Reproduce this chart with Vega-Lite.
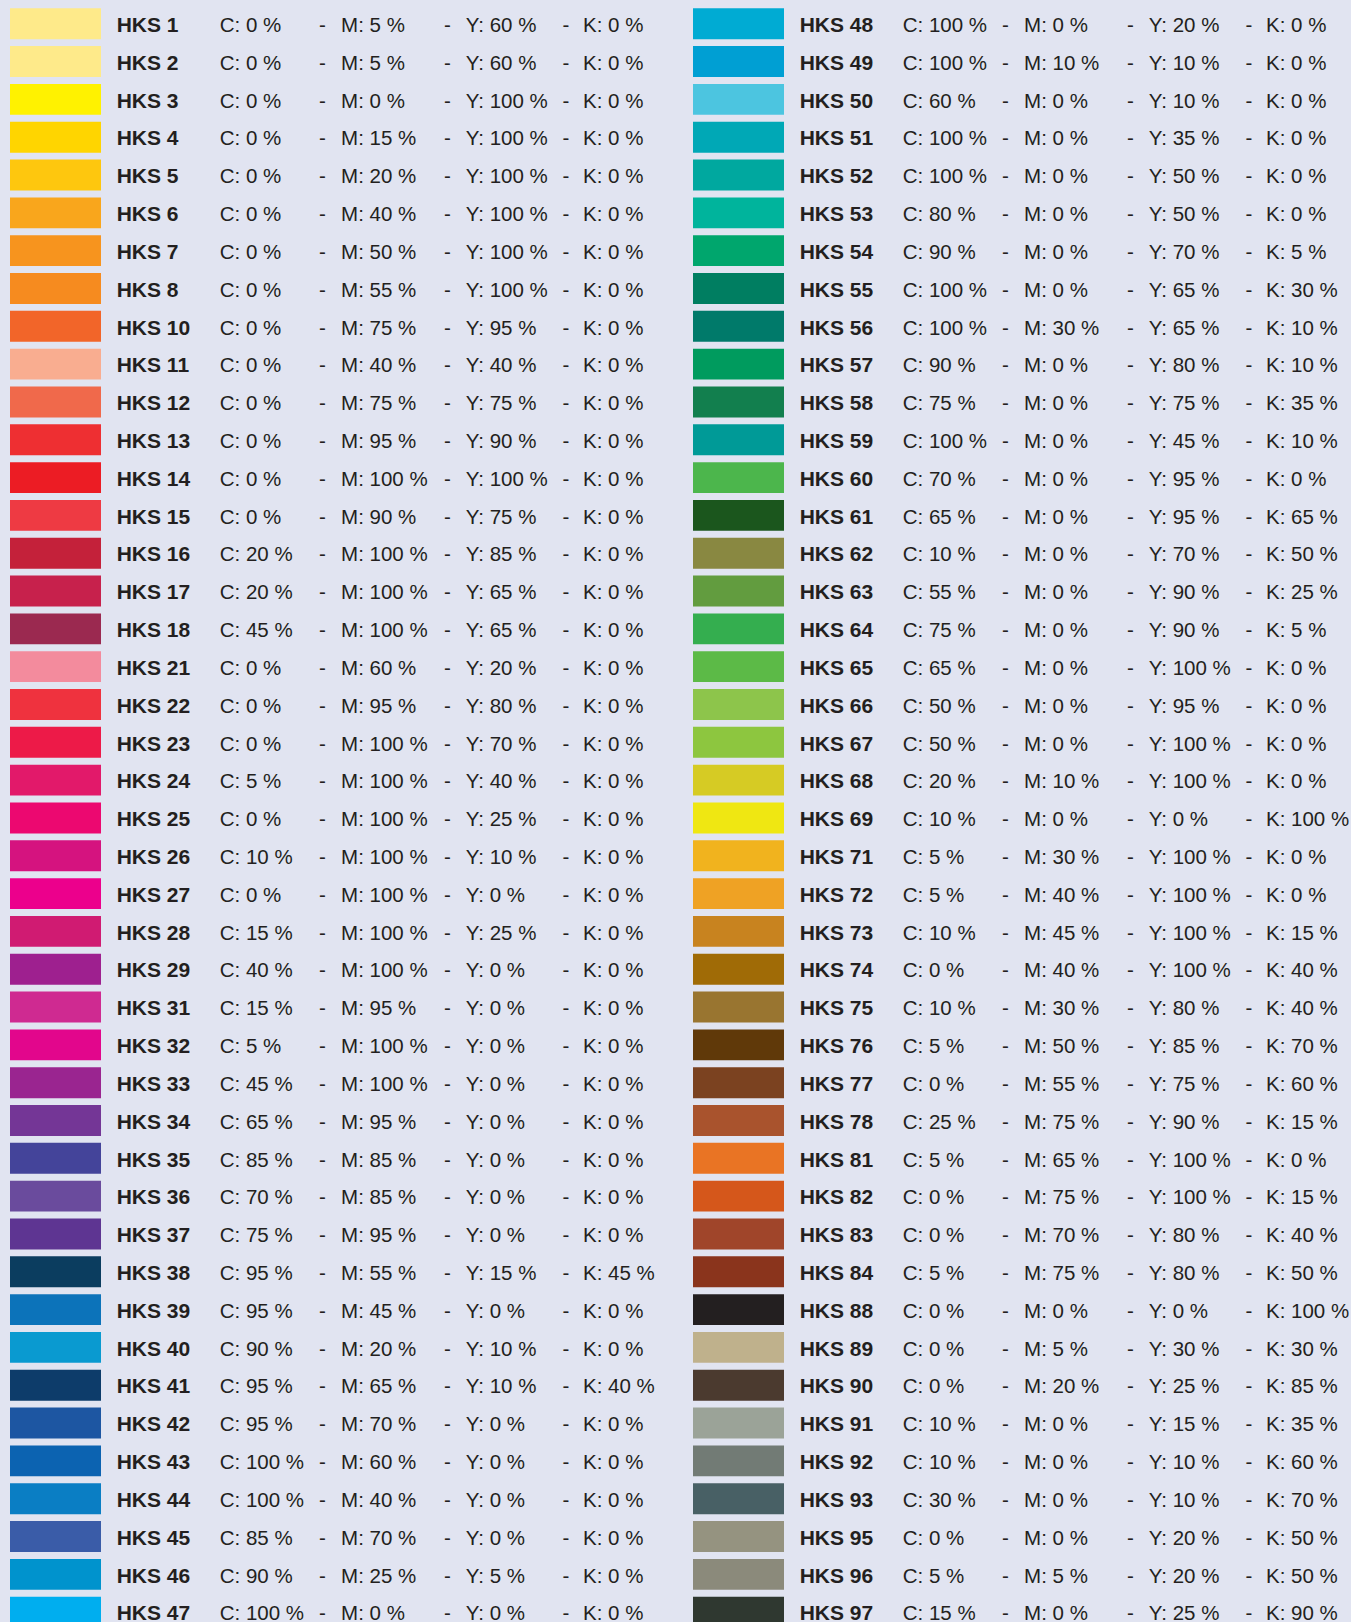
{
  "$schema": "https://vega.github.io/schema/vega-lite/v6.json",
  "width": 1351,
  "height": 1622,
  "autosize": {"type": "none"},
  "padding": 0,
  "background": "#e1e4f1",
  "config": {"view": {"stroke": null}},
  "data": {"values": [
    {"col":0,"row":0,"name":"HKS 1","c":"C: 0 %","m":"M: 5 %","y":"Y: 60 %","k":"K: 0 %","rgb":"#feea8a"},
    {"col":0,"row":1,"name":"HKS 2","c":"C: 0 %","m":"M: 5 %","y":"Y: 60 %","k":"K: 0 %","rgb":"#feea8a"},
    {"col":0,"row":2,"name":"HKS 3","c":"C: 0 %","m":"M: 0 %","y":"Y: 100 %","k":"K: 0 %","rgb":"#fff200"},
    {"col":0,"row":3,"name":"HKS 4","c":"C: 0 %","m":"M: 15 %","y":"Y: 100 %","k":"K: 0 %","rgb":"#ffd500"},
    {"col":0,"row":4,"name":"HKS 5","c":"C: 0 %","m":"M: 20 %","y":"Y: 100 %","k":"K: 0 %","rgb":"#fec70e"},
    {"col":0,"row":5,"name":"HKS 6","c":"C: 0 %","m":"M: 40 %","y":"Y: 100 %","k":"K: 0 %","rgb":"#f9a61c"},
    {"col":0,"row":6,"name":"HKS 7","c":"C: 0 %","m":"M: 50 %","y":"Y: 100 %","k":"K: 0 %","rgb":"#f7941e"},
    {"col":0,"row":7,"name":"HKS 8","c":"C: 0 %","m":"M: 55 %","y":"Y: 100 %","k":"K: 0 %","rgb":"#f68b1f"},
    {"col":0,"row":8,"name":"HKS 10","c":"C: 0 %","m":"M: 75 %","y":"Y: 95 %","k":"K: 0 %","rgb":"#f26529"},
    {"col":0,"row":9,"name":"HKS 11","c":"C: 0 %","m":"M: 40 %","y":"Y: 40 %","k":"K: 0 %","rgb":"#f9ad90"},
    {"col":0,"row":10,"name":"HKS 12","c":"C: 0 %","m":"M: 75 %","y":"Y: 75 %","k":"K: 0 %","rgb":"#f0694b"},
    {"col":0,"row":11,"name":"HKS 13","c":"C: 0 %","m":"M: 95 %","y":"Y: 90 %","k":"K: 0 %","rgb":"#ee2f32"},
    {"col":0,"row":12,"name":"HKS 14","c":"C: 0 %","m":"M: 100 %","y":"Y: 100 %","k":"K: 0 %","rgb":"#ec1c24"},
    {"col":0,"row":13,"name":"HKS 15","c":"C: 0 %","m":"M: 90 %","y":"Y: 75 %","k":"K: 0 %","rgb":"#ee3a43"},
    {"col":0,"row":14,"name":"HKS 16","c":"C: 20 %","m":"M: 100 %","y":"Y: 85 %","k":"K: 0 %","rgb":"#c4213a"},
    {"col":0,"row":15,"name":"HKS 17","c":"C: 20 %","m":"M: 100 %","y":"Y: 65 %","k":"K: 0 %","rgb":"#c7214c"},
    {"col":0,"row":16,"name":"HKS 18","c":"C: 45 %","m":"M: 100 %","y":"Y: 65 %","k":"K: 0 %","rgb":"#9b2950"},
    {"col":0,"row":17,"name":"HKS 21","c":"C: 0 %","m":"M: 60 %","y":"Y: 20 %","k":"K: 0 %","rgb":"#f38b9d"},
    {"col":0,"row":18,"name":"HKS 22","c":"C: 0 %","m":"M: 95 %","y":"Y: 80 %","k":"K: 0 %","rgb":"#ef323e"},
    {"col":0,"row":19,"name":"HKS 23","c":"C: 0 %","m":"M: 100 %","y":"Y: 70 %","k":"K: 0 %","rgb":"#ed1a48"},
    {"col":0,"row":20,"name":"HKS 24","c":"C: 5 %","m":"M: 100 %","y":"Y: 40 %","k":"K: 0 %","rgb":"#e2196a"},
    {"col":0,"row":21,"name":"HKS 25","c":"C: 0 %","m":"M: 100 %","y":"Y: 25 %","k":"K: 0 %","rgb":"#ec0870"},
    {"col":0,"row":22,"name":"HKS 26","c":"C: 10 %","m":"M: 100 %","y":"Y: 10 %","k":"K: 0 %","rgb":"#d5137f"},
    {"col":0,"row":23,"name":"HKS 27","c":"C: 0 %","m":"M: 100 %","y":"Y: 0 %","k":"K: 0 %","rgb":"#ec008c"},
    {"col":0,"row":24,"name":"HKS 28","c":"C: 15 %","m":"M: 100 %","y":"Y: 25 %","k":"K: 0 %","rgb":"#d01b72"},
    {"col":0,"row":25,"name":"HKS 29","c":"C: 40 %","m":"M: 100 %","y":"Y: 0 %","k":"K: 0 %","rgb":"#9e208f"},
    {"col":0,"row":26,"name":"HKS 31","c":"C: 15 %","m":"M: 95 %","y":"Y: 0 %","k":"K: 0 %","rgb":"#cf2a91"},
    {"col":0,"row":27,"name":"HKS 32","c":"C: 5 %","m":"M: 100 %","y":"Y: 0 %","k":"K: 0 %","rgb":"#e2068c"},
    {"col":0,"row":28,"name":"HKS 33","c":"C: 45 %","m":"M: 100 %","y":"Y: 0 %","k":"K: 0 %","rgb":"#9a2590"},
    {"col":0,"row":29,"name":"HKS 34","c":"C: 65 %","m":"M: 95 %","y":"Y: 0 %","k":"K: 0 %","rgb":"#743696"},
    {"col":0,"row":30,"name":"HKS 35","c":"C: 85 %","m":"M: 85 %","y":"Y: 0 %","k":"K: 0 %","rgb":"#44449a"},
    {"col":0,"row":31,"name":"HKS 36","c":"C: 70 %","m":"M: 85 %","y":"Y: 0 %","k":"K: 0 %","rgb":"#6a4b9d"},
    {"col":0,"row":32,"name":"HKS 37","c":"C: 75 %","m":"M: 95 %","y":"Y: 0 %","k":"K: 0 %","rgb":"#5e3592"},
    {"col":0,"row":33,"name":"HKS 38","c":"C: 95 %","m":"M: 55 %","y":"Y: 15 %","k":"K: 45 %","rgb":"#0b3d5f"},
    {"col":0,"row":34,"name":"HKS 39","c":"C: 95 %","m":"M: 45 %","y":"Y: 0 %","k":"K: 0 %","rgb":"#0c73ba"},
    {"col":0,"row":35,"name":"HKS 40","c":"C: 90 %","m":"M: 20 %","y":"Y: 10 %","k":"K: 0 %","rgb":"#0a9ad0"},
    {"col":0,"row":36,"name":"HKS 41","c":"C: 95 %","m":"M: 65 %","y":"Y: 10 %","k":"K: 40 %","rgb":"#0d3c6a"},
    {"col":0,"row":37,"name":"HKS 42","c":"C: 95 %","m":"M: 70 %","y":"Y: 0 %","k":"K: 0 %","rgb":"#1d56a2"},
    {"col":0,"row":38,"name":"HKS 43","c":"C: 100 %","m":"M: 60 %","y":"Y: 0 %","k":"K: 0 %","rgb":"#0c63b1"},
    {"col":0,"row":39,"name":"HKS 44","c":"C: 100 %","m":"M: 40 %","y":"Y: 0 %","k":"K: 0 %","rgb":"#0a7ec4"},
    {"col":0,"row":40,"name":"HKS 45","c":"C: 85 %","m":"M: 70 %","y":"Y: 0 %","k":"K: 0 %","rgb":"#3a5ca8"},
    {"col":0,"row":41,"name":"HKS 46","c":"C: 90 %","m":"M: 25 %","y":"Y: 5 %","k":"K: 0 %","rgb":"#0093cd"},
    {"col":0,"row":42,"name":"HKS 47","c":"C: 100 %","m":"M: 0 %","y":"Y: 0 %","k":"K: 0 %","rgb":"#00aeef"},
    {"col":1,"row":0,"name":"HKS 48","c":"C: 100 %","m":"M: 0 %","y":"Y: 20 %","k":"K: 0 %","rgb":"#00abd3"},
    {"col":1,"row":1,"name":"HKS 49","c":"C: 100 %","m":"M: 10 %","y":"Y: 10 %","k":"K: 0 %","rgb":"#009fd3"},
    {"col":1,"row":2,"name":"HKS 50","c":"C: 60 %","m":"M: 0 %","y":"Y: 10 %","k":"K: 0 %","rgb":"#4cc5e0"},
    {"col":1,"row":3,"name":"HKS 51","c":"C: 100 %","m":"M: 0 %","y":"Y: 35 %","k":"K: 0 %","rgb":"#00a8b6"},
    {"col":1,"row":4,"name":"HKS 52","c":"C: 100 %","m":"M: 0 %","y":"Y: 50 %","k":"K: 0 %","rgb":"#00a89f"},
    {"col":1,"row":5,"name":"HKS 53","c":"C: 80 %","m":"M: 0 %","y":"Y: 50 %","k":"K: 0 %","rgb":"#00b49c"},
    {"col":1,"row":6,"name":"HKS 54","c":"C: 90 %","m":"M: 0 %","y":"Y: 70 %","k":"K: 5 %","rgb":"#00a66d"},
    {"col":1,"row":7,"name":"HKS 55","c":"C: 100 %","m":"M: 0 %","y":"Y: 65 %","k":"K: 30 %","rgb":"#007e61"},
    {"col":1,"row":8,"name":"HKS 56","c":"C: 100 %","m":"M: 30 %","y":"Y: 65 %","k":"K: 10 %","rgb":"#007a6a"},
    {"col":1,"row":9,"name":"HKS 57","c":"C: 90 %","m":"M: 0 %","y":"Y: 80 %","k":"K: 10 %","rgb":"#009b5e"},
    {"col":1,"row":10,"name":"HKS 58","c":"C: 75 %","m":"M: 0 %","y":"Y: 75 %","k":"K: 35 %","rgb":"#127f4e"},
    {"col":1,"row":11,"name":"HKS 59","c":"C: 100 %","m":"M: 0 %","y":"Y: 45 %","k":"K: 10 %","rgb":"#009a97"},
    {"col":1,"row":12,"name":"HKS 60","c":"C: 70 %","m":"M: 0 %","y":"Y: 95 %","k":"K: 0 %","rgb":"#4cb64c"},
    {"col":1,"row":13,"name":"HKS 61","c":"C: 65 %","m":"M: 0 %","y":"Y: 95 %","k":"K: 65 %","rgb":"#1b561d"},
    {"col":1,"row":14,"name":"HKS 62","c":"C: 10 %","m":"M: 0 %","y":"Y: 70 %","k":"K: 50 %","rgb":"#898841"},
    {"col":1,"row":15,"name":"HKS 63","c":"C: 55 %","m":"M: 0 %","y":"Y: 90 %","k":"K: 25 %","rgb":"#629c3f"},
    {"col":1,"row":16,"name":"HKS 64","c":"C: 75 %","m":"M: 0 %","y":"Y: 90 %","k":"K: 5 %","rgb":"#34ae4f"},
    {"col":1,"row":17,"name":"HKS 65","c":"C: 65 %","m":"M: 0 %","y":"Y: 100 %","k":"K: 0 %","rgb":"#5cba47"},
    {"col":1,"row":18,"name":"HKS 66","c":"C: 50 %","m":"M: 0 %","y":"Y: 95 %","k":"K: 0 %","rgb":"#8dc54b"},
    {"col":1,"row":19,"name":"HKS 67","c":"C: 50 %","m":"M: 0 %","y":"Y: 100 %","k":"K: 0 %","rgb":"#8dc63f"},
    {"col":1,"row":20,"name":"HKS 68","c":"C: 20 %","m":"M: 10 %","y":"Y: 100 %","k":"K: 0 %","rgb":"#d6cb24"},
    {"col":1,"row":21,"name":"HKS 69","c":"C: 10 %","m":"M: 0 %","y":"Y: 0 %","k":"K: 100 %","rgb":"#efe712"},
    {"col":1,"row":22,"name":"HKS 71","c":"C: 5 %","m":"M: 30 %","y":"Y: 100 %","k":"K: 0 %","rgb":"#f1b31e"},
    {"col":1,"row":23,"name":"HKS 72","c":"C: 5 %","m":"M: 40 %","y":"Y: 100 %","k":"K: 0 %","rgb":"#efa224"},
    {"col":1,"row":24,"name":"HKS 73","c":"C: 10 %","m":"M: 45 %","y":"Y: 100 %","k":"K: 15 %","rgb":"#c8831f"},
    {"col":1,"row":25,"name":"HKS 74","c":"C: 0 %","m":"M: 40 %","y":"Y: 100 %","k":"K: 40 %","rgb":"#a06b06"},
    {"col":1,"row":26,"name":"HKS 75","c":"C: 10 %","m":"M: 30 %","y":"Y: 80 %","k":"K: 40 %","rgb":"#997530"},
    {"col":1,"row":27,"name":"HKS 76","c":"C: 5 %","m":"M: 50 %","y":"Y: 85 %","k":"K: 70 %","rgb":"#603909"},
    {"col":1,"row":28,"name":"HKS 77","c":"C: 0 %","m":"M: 55 %","y":"Y: 75 %","k":"K: 60 %","rgb":"#7b4220"},
    {"col":1,"row":29,"name":"HKS 78","c":"C: 25 %","m":"M: 75 %","y":"Y: 90 %","k":"K: 15 %","rgb":"#a9532d"},
    {"col":1,"row":30,"name":"HKS 81","c":"C: 5 %","m":"M: 65 %","y":"Y: 100 %","k":"K: 0 %","rgb":"#e97424"},
    {"col":1,"row":31,"name":"HKS 82","c":"C: 0 %","m":"M: 75 %","y":"Y: 100 %","k":"K: 15 %","rgb":"#d5571b"},
    {"col":1,"row":32,"name":"HKS 83","c":"C: 0 %","m":"M: 70 %","y":"Y: 80 %","k":"K: 40 %","rgb":"#a0452a"},
    {"col":1,"row":33,"name":"HKS 84","c":"C: 5 %","m":"M: 75 %","y":"Y: 80 %","k":"K: 50 %","rgb":"#8a341c"},
    {"col":1,"row":34,"name":"HKS 88","c":"C: 0 %","m":"M: 0 %","y":"Y: 0 %","k":"K: 100 %","rgb":"#231f20"},
    {"col":1,"row":35,"name":"HKS 89","c":"C: 0 %","m":"M: 5 %","y":"Y: 30 %","k":"K: 30 %","rgb":"#bfb18c"},
    {"col":1,"row":36,"name":"HKS 90","c":"C: 0 %","m":"M: 20 %","y":"Y: 25 %","k":"K: 85 %","rgb":"#4b3a2f"},
    {"col":1,"row":37,"name":"HKS 91","c":"C: 10 %","m":"M: 0 %","y":"Y: 15 %","k":"K: 35 %","rgb":"#9ba398"},
    {"col":1,"row":38,"name":"HKS 92","c":"C: 10 %","m":"M: 0 %","y":"Y: 10 %","k":"K: 60 %","rgb":"#727b75"},
    {"col":1,"row":39,"name":"HKS 93","c":"C: 30 %","m":"M: 0 %","y":"Y: 10 %","k":"K: 70 %","rgb":"#486065"},
    {"col":1,"row":40,"name":"HKS 95","c":"C: 0 %","m":"M: 0 %","y":"Y: 20 %","k":"K: 50 %","rgb":"#959380"},
    {"col":1,"row":41,"name":"HKS 96","c":"C: 5 %","m":"M: 5 %","y":"Y: 20 %","k":"K: 50 %","rgb":"#8b8a7b"},
    {"col":1,"row":42,"name":"HKS 97","c":"C: 15 %","m":"M: 0 %","y":"Y: 25 %","k":"K: 90 %","rgb":"#2f3830"}
  ]},
  "encoding": {
    "x": {"field": "col", "type": "quantitative", "axis": null, "scale": {"domain": [0, 1], "range": [0, 683], "nice": false, "zero": false}},
    "y": {"field": "row", "type": "quantitative", "axis": null, "scale": {"domain": [0, 42], "range": [0, 1588.4], "nice": false, "zero": false}}
  },
  "layer": [
    {
      "mark": {"type": "rect", "xOffset": 10, "x2Offset": 101, "yOffset": 8.3, "y2Offset": 39.2},
      "encoding": {
        "x2": {"field": "col"},
        "y2": {"field": "row"},
        "color": {"field": "rgb", "type": "nominal", "scale": null, "legend": null}
      }
    },
    {
      "mark": {"type": "text", "align": "left", "baseline": "alphabetic", "dx": 116.7, "dy": 32, "font": "Liberation Sans", "fontSize": 21, "fontWeight": "bold", "color": "#231f20"},
      "encoding": {"text": {"field": "name"}}
    },
    {
      "mark": {"type": "text", "align": "left", "baseline": "alphabetic", "dx": 219.7, "dy": 32, "font": "Liberation Sans", "fontSize": 20.5, "color": "#231f20"},
      "encoding": {"text": {"field": "c"}}
    },
    {
      "mark": {"type": "text", "align": "left", "baseline": "alphabetic", "dx": 319, "dy": 32, "font": "Liberation Sans", "fontSize": 20.5, "color": "#231f20", "text": "-"},
      "encoding": {}
    },
    {
      "mark": {"type": "text", "align": "left", "baseline": "alphabetic", "dx": 341.1, "dy": 32, "font": "Liberation Sans", "fontSize": 20.5, "color": "#231f20"},
      "encoding": {"text": {"field": "m"}}
    },
    {
      "mark": {"type": "text", "align": "left", "baseline": "alphabetic", "dx": 444, "dy": 32, "font": "Liberation Sans", "fontSize": 20.5, "color": "#231f20", "text": "-"},
      "encoding": {}
    },
    {
      "mark": {"type": "text", "align": "left", "baseline": "alphabetic", "dx": 465.7, "dy": 32, "font": "Liberation Sans", "fontSize": 20.5, "color": "#231f20"},
      "encoding": {"text": {"field": "y"}}
    },
    {
      "mark": {"type": "text", "align": "left", "baseline": "alphabetic", "dx": 562.5, "dy": 32, "font": "Liberation Sans", "fontSize": 20.5, "color": "#231f20", "text": "-"},
      "encoding": {}
    },
    {
      "mark": {"type": "text", "align": "left", "baseline": "alphabetic", "dx": 583, "dy": 32, "font": "Liberation Sans", "fontSize": 20.5, "color": "#231f20"},
      "encoding": {"text": {"field": "k"}}
    }
  ]
}
